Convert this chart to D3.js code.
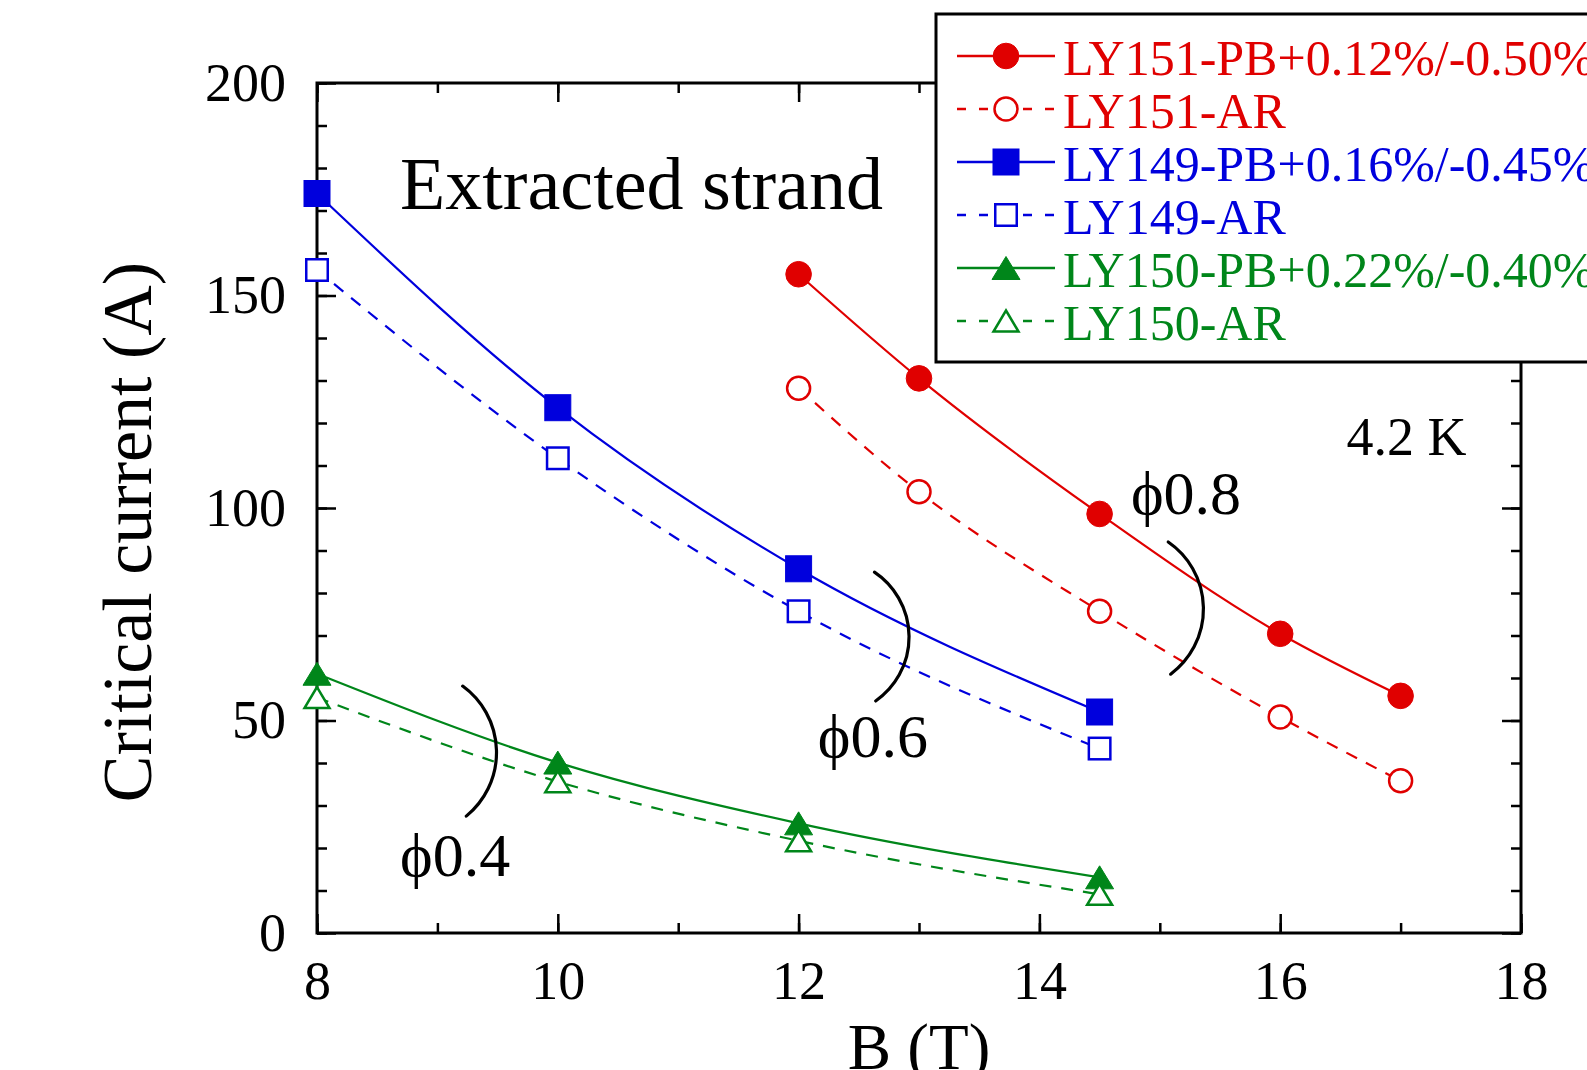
<!DOCTYPE html>
<html>
<head>
<meta charset="utf-8">
<script src="https://cdn.jsdelivr.net/npm/d3@7/dist/d3.min.js"></script>
<style>
  body { margin: 0; background: #fff; }
  svg { display: block; }
  text { font-family: "Liberation Serif", "Times New Roman", serif; }
</style>
</head>
<body>
<div id="chart"></div>
<script>
'use strict';

// magnetic field B (T) for each sample
var fieldsLY151 = [12, 13, 14.5, 16, 17];
var fieldsLY149 = [8, 10, 12, 14.5];
var fieldsLY150 = [8, 10, 12, 14.5];

// critical current (A)
var ly151PB = [155.0, 130.5, 98.6, 70.4, 55.8];
var ly151AR = [128.2, 103.8, 75.7, 50.8, 35.8];
var ly149PB = [174.0, 123.6, 85.7, 52.0];
var ly149AR = [156.0, 111.7, 75.7, 43.4];
var ly150PB = [61.0, 40.1, 25.8, 13.1];
var ly150AR = [55.4, 35.6, 21.7, 9.1];

var seriesNames = [
  'LY151-PB+0.12%/-0.50%', 'LY151-AR',
  'LY149-PB+0.16%/-0.45%', 'LY149-AR',
  'LY150-PB+0.22%/-0.40%', 'LY150-AR'
];

var xTicks = [8, 10, 12, 14, 16, 18];
var yTicks = [0, 50, 100, 150, 200];

// annotations, in data units
var bracketLabels = ['\u03d50.8', '\u03d50.6', '\u03d50.4'];
var bracketLabelAt = [[14.76, 98.6], [12.16, 41.4], [8.69, 13.4]];
var bracketEnds = [[[15.07, 92.0], [15.09, 60.9]],
                   [[12.63, 84.9], [12.64, 54.6]],
                   [[9.21, 58.1], [9.24, 27.5]]];
var bracketBulge = [34, 34, 32];

var red = '#e00000', blue = '#0000dd', green = '#00861a';

var series = [
  { name: seriesNames[0], x: fieldsLY151, y: ly151PB, color: red,   shape: 'circle',   filled: true },
  { name: seriesNames[1], x: fieldsLY151, y: ly151AR, color: red,   shape: 'circle',   filled: false },
  { name: seriesNames[2], x: fieldsLY149, y: ly149PB, color: blue,  shape: 'square',   filled: true },
  { name: seriesNames[3], x: fieldsLY149, y: ly149AR, color: blue,  shape: 'square',   filled: false },
  { name: seriesNames[4], x: fieldsLY150, y: ly150PB, color: green, shape: 'triangle', filled: true },
  { name: seriesNames[5], x: fieldsLY150, y: ly150AR, color: green, shape: 'triangle', filled: false }
];

var W = 1587, H = 1070;
var plotL = 317, plotR = 1521, plotT = 83, plotB = 933;

var svg = d3.select('#chart').append('svg')
  .attr('width', W)
  .attr('height', H);

var x = d3.scaleLinear().domain([8, 18]).range([plotL, plotR]);
var y = d3.scaleLinear().domain([0, 200]).range([plotB, plotT]);

var minorX = d3.range(8, 18.01, 1);
var minorY = d3.range(0, 200.01, 10);

function styleAxis(g) {
  g.select('.domain').remove();
  g.selectAll('.tick line').attr('stroke', '#000').attr('stroke-width', 2.5);
  g.selectAll('.tick text')
    .attr('fill', '#000')
    .attr('font-size', 54)
    .attr('font-family', '"Liberation Serif", "Times New Roman", serif');
}

// inward ticks on all four sides: minor then major
svg.append('g').attr('transform', 'translate(0,' + plotB + ')')
  .call(d3.axisBottom(x).tickValues(minorX).tickSize(-10).tickFormat(''))
  .call(styleAxis);
svg.append('g').attr('transform', 'translate(0,' + plotB + ')')
  .call(d3.axisBottom(x).tickValues(xTicks).tickSize(-19).tickPadding(28).tickFormat(d3.format('d')))
  .call(styleAxis);
svg.append('g').attr('transform', 'translate(0,' + plotT + ')')
  .call(d3.axisTop(x).tickValues(minorX).tickSize(-10).tickFormat(''))
  .call(styleAxis);
svg.append('g').attr('transform', 'translate(0,' + plotT + ')')
  .call(d3.axisTop(x).tickValues(xTicks).tickSize(-19).tickFormat(''))
  .call(styleAxis);

svg.append('g').attr('transform', 'translate(' + plotL + ',0)')
  .call(d3.axisLeft(y).tickValues(minorY).tickSize(-10).tickFormat(''))
  .call(styleAxis);
svg.append('g').attr('transform', 'translate(' + plotL + ',0)')
  .call(d3.axisLeft(y).tickValues(yTicks).tickSize(-19).tickPadding(31).tickFormat(d3.format('d')))
  .call(styleAxis);
svg.append('g').attr('transform', 'translate(' + plotR + ',0)')
  .call(d3.axisRight(y).tickValues(minorY).tickSize(-10).tickFormat(''))
  .call(styleAxis);
svg.append('g').attr('transform', 'translate(' + plotR + ',0)')
  .call(d3.axisRight(y).tickValues(yTicks).tickSize(-19).tickFormat(''))
  .call(styleAxis);

// frame
svg.append('rect')
  .attr('x', plotL).attr('y', plotT)
  .attr('width', plotR - plotL).attr('height', plotB - plotT)
  .attr('fill', 'none').attr('stroke', '#000').attr('stroke-width', 3);

// axis titles (x title sits at the page bottom as in the original)
svg.append('text')
  .attr('x', (plotL + plotR) / 2).attr('y', 1069)
  .attr('text-anchor', 'middle').attr('font-size', 65)
  .text('B (T)');
svg.append('text')
  .attr('transform', 'translate(151,532) rotate(-90)')
  .attr('text-anchor', 'middle').attr('font-size', 70)
  .text('Critical current (A)');

// marker drawing
function addMarker(g, shape, filled, color, cx, cy) {
  var fill = filled ? color : '#fff';
  var sw = filled ? 1 : 2.5;
  if (shape === 'circle') {
    g.append('circle').attr('cx', cx).attr('cy', cy)
      .attr('r', filled ? 12.8 : 11.5)
      .attr('fill', fill).attr('stroke', color).attr('stroke-width', sw);
  } else if (shape === 'square') {
    var s = filled ? 26 : 21.5;
    g.append('rect').attr('x', cx - s / 2).attr('y', cy - s / 2)
      .attr('width', s).attr('height', s)
      .attr('fill', fill).attr('stroke', color).attr('stroke-width', sw);
  } else {
    var w = filled ? 28 : 25, h = filled ? 23 : 21;
    g.append('path')
      .attr('d', 'M' + cx + ',' + (cy - h / 2) + 'L' + (cx + w / 2) + ',' + (cy + h / 2) +
                 'L' + (cx - w / 2) + ',' + (cy + h / 2) + 'Z')
      .attr('fill', fill).attr('stroke', color).attr('stroke-width', sw)
      .attr('stroke-linejoin', 'miter');
  }
}

var line = d3.line()
  .x(function (d) { return x(d[0]); })
  .y(function (d) { return y(d[1]); })
  .curve(d3.curveMonotoneX);

series.forEach(function (s) {
  var pts = s.x.map(function (v, i) { return [v, s.y[i]]; });
  svg.append('path')
    .datum(pts)
    .attr('d', line)
    .attr('fill', 'none')
    .attr('stroke', s.color)
    .attr('stroke-width', 2.2)
    .attr('stroke-dasharray', s.filled ? null : '12,10');
  var g = svg.append('g');
  pts.forEach(function (p) {
    addMarker(g, s.shape, s.filled, s.color, x(p[0]), y(p[1]));
  });
});

// brackets and diameter labels
bracketEnds.forEach(function (b, i) {
  var x0 = x(b[0][0]), y0 = y(b[0][1]), x1 = x(b[1][0]), y1 = y(b[1][1]);
  var c = Math.hypot(x1 - x0, y1 - y0), sag = bracketBulge[i];
  var r = (c * c / 4 + sag * sag) / (2 * sag);
  svg.append('path')
    .attr('d', 'M' + x0 + ',' + y0 + 'A' + r + ',' + r + ' 0 0 1 ' + x1 + ',' + y1)
    .attr('fill', 'none').attr('stroke', '#000').attr('stroke-width', 3.2)
    .attr('stroke-linecap', 'round');
  svg.append('text')
    .attr('x', x(bracketLabelAt[i][0])).attr('y', y(bracketLabelAt[i][1]))
    .attr('font-size', 62)
    .text(bracketLabels[i]);
});

svg.append('text')
  .attr('x', x(8.69)).attr('y', y(170.4))
  .attr('font-size', 74)
  .text('Extracted strand');
svg.append('text')
  .attr('x', x(16.55)).attr('y', y(112.5))
  .attr('font-size', 54)
  .text('4.2 K');

// legend box, runs off the right edge like the original
var leg = svg.append('g');
leg.append('rect')
  .attr('x', 936).attr('y', 14)
  .attr('width', 700).attr('height', 348)
  .attr('fill', '#fff').attr('stroke', '#000').attr('stroke-width', 3);

series.forEach(function (s, i) {
  var ry = 56 + i * 53;
  leg.append('line')
    .attr('x1', 957).attr('x2', 1055)
    .attr('y1', ry).attr('y2', ry)
    .attr('stroke', s.color).attr('stroke-width', 2.5)
    .attr('stroke-dasharray', s.filled ? null : '9,13');
  addMarker(leg, s.shape, s.filled, s.color, 1006, ry);
  leg.append('text')
    .attr('x', 1063).attr('y', ry + 19)
    .attr('font-size', 50)
    .attr('fill', s.color)
    .text(s.name);
});
</script>
</body>
</html>
